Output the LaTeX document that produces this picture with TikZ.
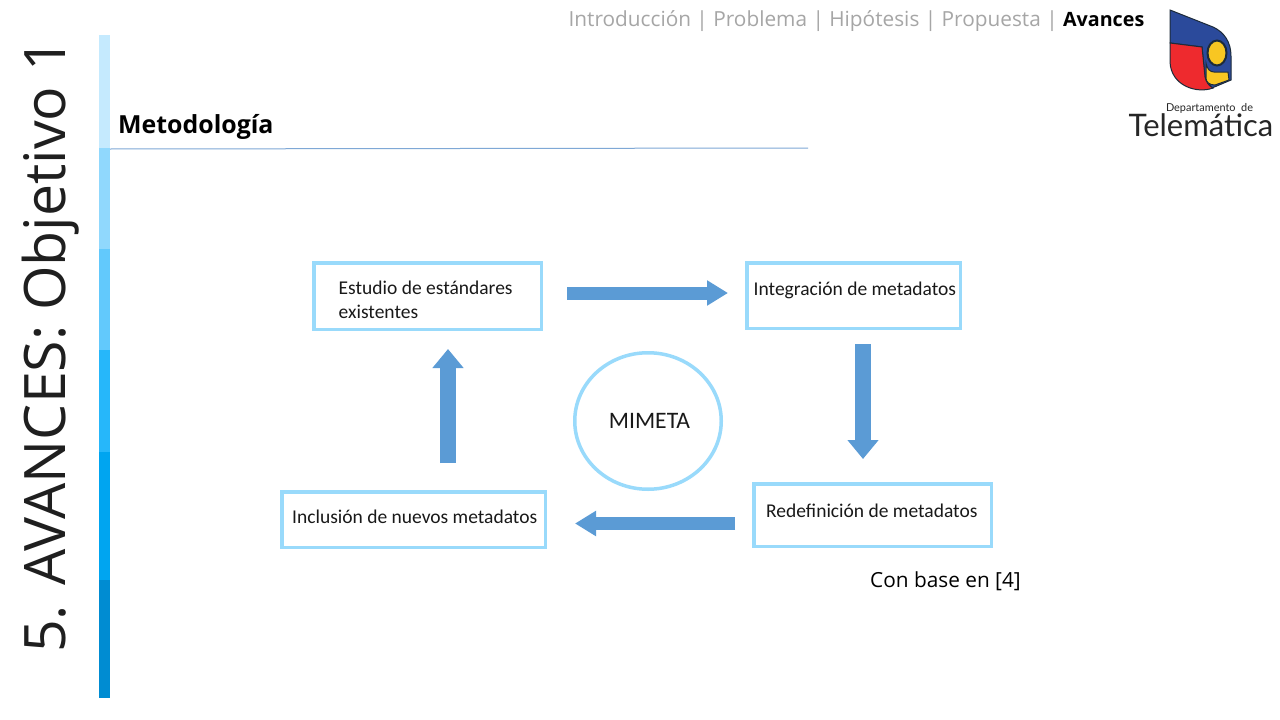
\documentclass[tikz,border=0pt]{standalone}
\usepackage{fontspec}
\setmainfont{Carlito}
\newfontfamily\headfont{Open Sans}
\newfontfamily\logofont{Lato}
\usetikzlibrary{arrows.meta,shapes.geometric}
\definecolor{boxblue}{HTML}{99DAFB}
\definecolor{arrowblue}{HTML}{5B9BD5}
\definecolor{ruleblue}{HTML}{7FA8D6}
\definecolor{greytext}{HTML}{A6A6A6}
\definecolor{logoblue}{HTML}{2B4A9B}
\definecolor{logored}{HTML}{EE2A2E}
\definecolor{logoyellow}{HTML}{F8C622}
\definecolor{logoline}{HTML}{1D2B3A}
\tikzset{
  x=1pt,y=-1pt,
  stepbox/.style={draw=boxblue,line width=3.5pt,fill=white,inner sep=0pt,anchor=north west},
  boxtext/.style={font=\fontsize{19.5}{24}\selectfont,text=black!90,align=left,anchor=west,inner sep=0pt},
  flowh/.style={-{Triangle[length=21pt,width=24pt]},draw=arrowblue,line width=13pt},
  flowv/.style={-{Triangle[length=19pt,width=30pt]},draw=arrowblue,line width=16pt},
}
\begin{document}
\begin{tikzpicture}
\useasboundingbox (0,0) rectangle (1280,720);
% side bar
\fill[fill=white] (0,0) rectangle (1280,720);
\fill[fill={rgb,255:red,197;green,234;blue,254}] (99,35) rectangle (110,148);
\fill[fill={rgb,255:red,144;green,216;blue,253}] (99,148) rectangle (110,249);
\fill[fill={rgb,255:red,98;green,201;blue,252}] (99,249) rectangle (110,350);
\fill[fill={rgb,255:red,38;green,183;blue,250}] (99,350) rectangle (110,452);
\fill[fill={rgb,255:red,0;green,165;blue,240}] (99,452) rectangle (110,580);
\fill[fill={rgb,255:red,0;green,140;blue,210}] (99,580) rectangle (110,698);
% title
\node[rotate=90,anchor=mid west,inner sep=0pt,text=black!88,font=\headfont\fontsize{57.2}{60}\selectfont] (title) at (63,653) {5. AVANCES: Objetivo 1};
% breadcrumb
\node[anchor=mid east,inner sep=0pt,font=\headfont\fontsize{20.8}{24}\selectfont,text=greytext] (crumb) at (1144.5,24) {Introducción | Problema | Hipótesis | Propuesta | \textcolor{black}{\fontsize{19.7}{24}\selectfont\bfseries Avances}};
% section
\node[anchor=mid west,inner sep=0pt,font=\headfont\fontsize{24.9}{26}\selectfont\bfseries] (sec) at (118,131) {Metodología};
\coordinate (ruleA) at (110,149);
\coordinate (ruleB) at (808,148);
\draw[ruleblue,line width=1pt] (ruleA) -- (ruleB);
% boxes
\node[stepbox,minimum width=227.5pt,minimum height=66.5pt] (b1) at (312,261) {};
\node[stepbox,minimum width=213.5pt,minimum height=65.5pt] (b2) at (745,261) {};
\node[stepbox,minimum width=237.5pt,minimum height=62.5pt] (b3) at (752,482) {};
\node[stepbox,minimum width=263.5pt,minimum height=55.5pt] (b4) at (280,490) {};
\node[draw=boxblue,line width=3.5pt,ellipse,minimum width=146.5pt,minimum height=136.5pt,inner sep=0pt] (c) at (648,421) {};
\node[boxtext] (t1) at (338.5,300) {Estudio de estándares\\existentes};
\node[boxtext] (t2) at (753.5,290) {Integración de metadatos};
\node[boxtext] (t3) at (766,511) {Redefinición de metadatos};
\node[boxtext] (t4) at (292,517) {Inclusión de nuevos metadatos};
\node[inner sep=0pt,font=\fontsize{23.6}{24}\selectfont,text=black!90] (t5) at (649.5,421) {MIMETA};
\node[anchor=west,inner sep=0pt,font=\headfont\fontsize{20.8}{24}\selectfont] (ref) at (870,581) {Con base en [4]};
% arrows
\coordinate (a1) at (567,293); \coordinate (a2) at (728,293);
\coordinate (a3) at (863,344); \coordinate (a4) at (863,459);
\coordinate (a5) at (735,523.5); \coordinate (a6) at (575,523.5);
\coordinate (a7) at (448,463); \coordinate (a8) at (448,349);
\draw[flowh] (a1) -- (a2);
\draw[flowv] (a3) -- (a4);
\draw[flowh] (a5) -- (a6);
\draw[flowv] (a7) -- (a8);
% logo
\fill[logoblue,draw=logoline,line width=1pt] (1170,10) -- (1213,27)
  .. controls (1224,32) and (1231,42) .. (1231,56) -- (1231,80) -- (1212,88) -- (1205,77) -- (1202,47) -- (1170,43) -- cycle;
\fill[logored,draw=logoline,line width=1pt] (1170,43) -- (1202,47) -- (1205,77) .. controls (1206,82) and (1209,86) .. (1213,88)
  .. controls (1197,94) and (1171,86) .. (1170,62) -- cycle;
\fill[logoyellow,draw=logoline,line width=1pt] (1206,63) .. controls (1207,69) and (1210,72) .. (1214,72) -- (1228,72) -- (1229,80) -- (1215,85) .. controls (1209,85) and (1206,82) .. (1206,78) -- cycle;
\fill[logoyellow,draw=logoline,line width=2pt] (1217,53) ellipse [x radius=9.5pt,y radius=12.5pt];
\node[inner sep=0pt,font=\logofont\fontsize{10.9}{10}\selectfont,text=black!85] (l1) at (1209.5,108) {Departamento\ \ de};
\node[inner sep=0pt,font=\logofont\fontsize{31}{32}\selectfont,text=black!85] (l2) at (1201,125) {Telemática};
\end{tikzpicture}
\end{document}
